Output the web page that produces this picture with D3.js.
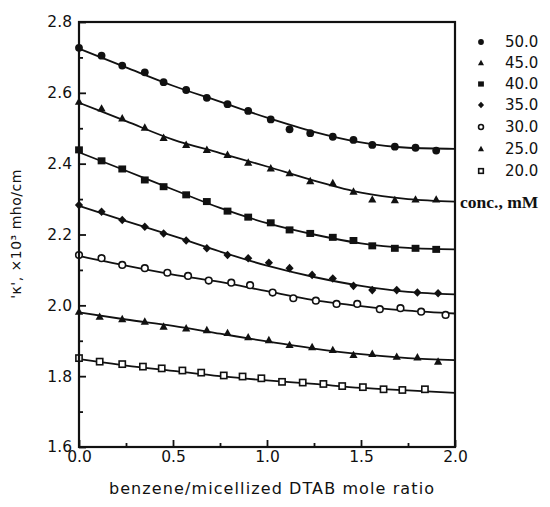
<!DOCTYPE html>
<html><head><meta charset="utf-8">
<script src="https://cdn.jsdelivr.net/npm/d3@7"></script>
<style>body{margin:0;background:#fff}svg{display:block}</style>
</head><body>
<svg id="c" width="550" height="507"></svg>
<script>
const concLabels = ["50.0","45.0","40.0","35.0","30.0","25.0","20.0"];
const markerTypes = ["circle","triangle","square","diamond","opencircle","triangle","opensquare"];
const xTicks = [0,0.5,1.0,1.5,2.0];
const yTicks = [1.6,1.8,2.0,2.2,2.4,2.6,2.8];

const x50 = [0,0.12,0.23,0.35,0.45,0.57,0.68,0.79,0.90,1.02,1.12,1.23,1.35,1.46,1.56,1.68,1.79,1.90];
const y50 = [2.727,2.705,2.677,2.658,2.630,2.608,2.586,2.568,2.549,2.525,2.497,2.486,2.476,2.467,2.453,2.448,2.445,2.437];
const x45 = [0,0.12,0.23,0.35,0.45,0.57,0.68,0.79,0.90,1.02,1.12,1.23,1.35,1.46,1.56,1.68,1.79,1.90];
const y45 = [2.575,2.556,2.528,2.502,2.473,2.453,2.439,2.425,2.403,2.387,2.373,2.351,2.345,2.321,2.299,2.297,2.299,2.299];
const x40 = [0,0.12,0.23,0.35,0.45,0.57,0.68,0.79,0.90,1.02,1.12,1.23,1.35,1.46,1.56,1.68,1.79,1.90];
const y40 = [2.439,2.408,2.385,2.354,2.335,2.312,2.293,2.266,2.249,2.233,2.213,2.203,2.192,2.183,2.168,2.161,2.161,2.158];
const x35 = [0,0.12,0.23,0.35,0.45,0.57,0.68,0.79,0.90,1.01,1.12,1.24,1.35,1.46,1.56,1.69,1.80,1.91];
const y35 = [2.283,2.264,2.241,2.222,2.203,2.183,2.161,2.142,2.133,2.120,2.105,2.086,2.076,2.055,2.043,2.043,2.036,2.034];
const x30 = [0,0.12,0.23,0.35,0.47,0.58,0.69,0.81,0.91,1.03,1.14,1.26,1.37,1.48,1.60,1.71,1.82,1.95];
const y30 = [2.142,2.133,2.114,2.105,2.092,2.083,2.070,2.064,2.057,2.036,2.020,2.013,2.004,2.004,1.989,1.992,1.982,1.973];
const x25 = [0,0.11,0.23,0.35,0.45,0.57,0.68,0.79,0.90,1.01,1.12,1.24,1.35,1.46,1.56,1.69,1.80,1.91];
const y25 = [1.982,1.968,1.961,1.954,1.940,1.935,1.930,1.922,1.910,1.902,1.888,1.882,1.874,1.860,1.863,1.855,1.853,1.841];
const x20 = [0,0.11,0.23,0.34,0.44,0.55,0.65,0.77,0.87,0.97,1.08,1.19,1.30,1.40,1.51,1.62,1.72,1.84];
const y20 = [1.851,1.841,1.834,1.827,1.822,1.816,1.810,1.802,1.799,1.794,1.784,1.782,1.778,1.772,1.769,1.763,1.761,1.763];

const fitX = [0,0.25,0.5,0.75,1.0,1.25,1.5,1.75,2.0];
const fit50 = [2.725,2.672,2.620,2.575,2.530,2.490,2.460,2.445,2.442];
const fit45 = [2.572,2.520,2.468,2.430,2.392,2.352,2.318,2.300,2.293];
const fit40 = [2.432,2.380,2.327,2.275,2.232,2.200,2.175,2.162,2.158];
const fit35 = [2.281,2.238,2.196,2.152,2.112,2.080,2.055,2.038,2.031];
const fit30 = [2.140,2.112,2.087,2.066,2.040,2.015,1.998,1.985,1.977];
const fit25 = [1.980,1.960,1.942,1.920,1.898,1.878,1.862,1.851,1.845];
const fit20 = [1.848,1.830,1.815,1.800,1.788,1.778,1.767,1.760,1.753];

const seriesX = [x50,x45,x40,x35,x30,x25,x20];
const seriesY = [y50,y45,y40,y35,y30,y25,y20];
const fits = [fit50,fit45,fit40,fit35,fit30,fit25,fit20];

const svg = d3.select("#c");
const L=79, R=455, T=22, B=447;
const x = d3.scaleLinear().domain([0,2]).range([L,R]);
const y = d3.scaleLinear().domain([1.6,2.8]).range([B,T]);
const ink = "#111";

// fit curves
const line = d3.line().x(d=>x(d[0])).y(d=>y(d[1])).curve(d3.curveMonotoneX);
fits.forEach(f=>{
  svg.append("path").attr("d", line(fitX.map((v,i)=>[v,f[i]])))
    .attr("fill","none").attr("stroke",ink).attr("stroke-width",1.8);
});

function marker(g, type, cx, cy, s){
  if(type==="circle"){ g.append("circle").attr("cx",cx).attr("cy",cy).attr("r",s).attr("fill",ink); }
  else if(type==="opencircle"){ g.append("circle").attr("cx",cx).attr("cy",cy).attr("r",s*0.85).attr("fill","#fff").attr("stroke",ink).attr("stroke-width",1.6); }
  else if(type==="square"){ g.append("rect").attr("x",cx-s).attr("y",cy-s*0.9).attr("width",2*s).attr("height",1.8*s).attr("fill",ink); }
  else if(type==="opensquare"){ g.append("rect").attr("x",cx-s*0.8).attr("y",cy-s*0.8).attr("width",1.6*s).attr("height",1.6*s).attr("fill","#fff").attr("stroke",ink).attr("stroke-width",1.6); }
  else if(type==="triangle"){ g.append("path").attr("d",`M${cx},${cy-s*1.1}L${cx+s*1.05},${cy+s*0.8}L${cx-s*1.05},${cy+s*0.8}Z`).attr("fill",ink); }
  else if(type==="diamond"){ g.append("path").attr("d",`M${cx},${cy-s*1.1}L${cx+s*1.05},${cy}L${cx},${cy+s*1.1}L${cx-s*1.05},${cy}Z`).attr("fill",ink); }
}

const pts = svg.append("g");
seriesX.forEach((xs,k)=>{
  xs.forEach((xv,i)=>marker(pts, markerTypes[k], x(xv), y(seriesY[k][i]), 3.9));
});

// frame
svg.append("rect").attr("x",L).attr("y",T).attr("width",R-L).attr("height",B-T)
  .attr("fill","none").attr("stroke",ink).attr("stroke-width",2.2);

// axes (ticks inward)
const xAxis = d3.axisBottom(x).tickValues(xTicks).tickFormat(d3.format(".1f")).tickSize(-7).tickPadding(10);
const gx = svg.append("g").attr("transform",`translate(0,${B})`).call(xAxis);
const xMinor = d3.axisBottom(x).tickValues([0.25,0.75,1.25,1.75]).tickFormat("").tickSize(-4);
svg.append("g").attr("transform",`translate(0,${B})`).call(xMinor);
const yAxis = d3.axisLeft(y).tickValues(yTicks).tickFormat(d3.format(".1f")).tickSize(-7).tickPadding(6);
const gy = svg.append("g").attr("transform",`translate(${L},0)`).call(yAxis);
const yMinor = d3.axisLeft(y).tickValues([1.7,1.9,2.1,2.3,2.5,2.7]).tickFormat("").tickSize(-4);
svg.append("g").attr("transform",`translate(${L},0)`).call(yMinor);
svg.selectAll(".domain").remove();
svg.selectAll(".tick line").attr("stroke",ink).attr("stroke-width",1.8);
svg.selectAll(".tick text").attr("fill",ink).style("font-family","DejaVu Sans").style("font-size","15.5px");
gx.selectAll(".tick text").attr("dy","0.35em");
gy.selectAll(".tick text").attr("dx","-1");

// axis titles
svg.append("text").attr("x",272).attr("y",494).attr("text-anchor","middle")
  .style("font-family","DejaVu Sans").style("font-size","16px").style("letter-spacing","1.1px").attr("fill",ink)
  .text("benzene/micellized DTAB mole ratio");
svg.append("text").attr("transform","translate(21,234) rotate(-90)").attr("text-anchor","middle")
  .style("font-family","DejaVu Sans").style("font-size","14px").style("letter-spacing","0.5px").attr("fill",ink)
  .text("'κ', ×10³ mho/cm");

// legend
const legY = [42,63,84,105,127,149,171];
const lg = svg.append("g");
concLabels.forEach((lab,k)=>{
  marker(lg, markerTypes[k], 481, legY[k], 2.9);
  lg.append("text").attr("x",505).attr("y",legY[k]).attr("dy","0.35em")
    .style("font-family","DejaVu Sans").style("font-size","15px").attr("fill",ink).text(lab);
});
svg.append("text").attr("x",460).attr("y",202).attr("dy","0.35em")
  .style("font-family","Liberation Serif").style("font-weight","bold").style("font-size","17.5px").attr("fill",ink)
  .text("conc., mM");
</script>
</body></html>
